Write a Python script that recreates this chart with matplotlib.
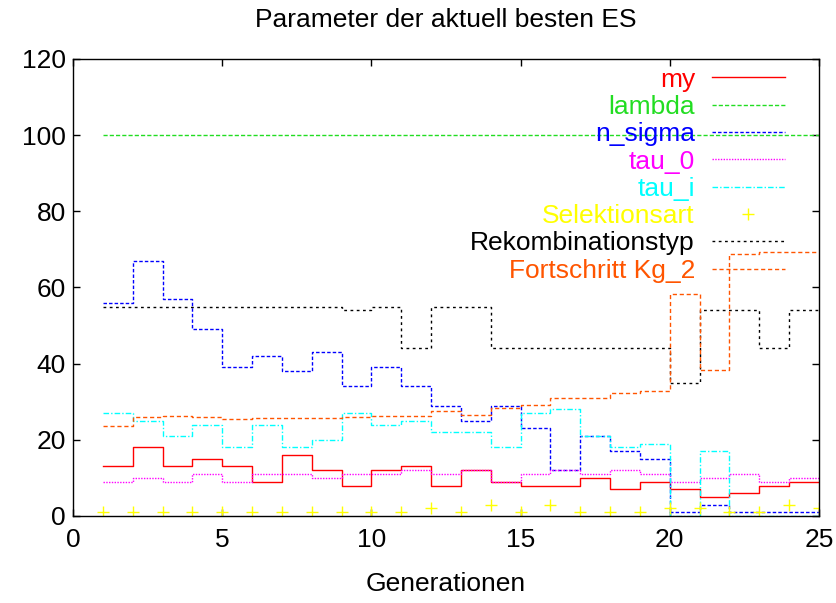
import matplotlib
matplotlib.use("Agg")
import matplotlib.pyplot as plt
import numpy as np

plt.rcParams['font.family'] = ['Liberation Sans', 'DejaVu Sans']

# Generationen 1..25
gen = np.arange(1, 26)

my = [13, 18, 13, 15, 13, 9, 16, 12, 8, 12, 13, 8, 12, 9, 8, 8, 10, 7, 9, 7, 5, 6, 8, 9, 9]
lam = [100] * 25
n_sigma = [56, 67, 57, 49, 39, 42, 38, 43, 34, 39, 34, 29, 25, 29, 23, 12, 21, 17, 15, 1, 3, 1, 1, 1, 1]
tau_0 = [9, 10, 9, 11, 9, 11, 11, 10, 11, 11, 12, 11, 12, 9, 11, 12, 11, 12, 11, 9, 10, 11, 9, 10, 10]
tau_i = [27, 25, 21, 24, 18, 24, 18, 20, 27, 24, 25, 22, 22, 18, 27, 28, 21, 18, 19, 0, 17, 0, 0, 0, 0]
selektion = [1, 1, 1, 1, 1, 1, 1, 1, 1, 1, 1, 2, 1, 3, 1, 3, 1, 1, 1, 2, 2, 1, 1, 3, 2]
rekomb = [55, 55, 55, 55, 55, 55, 55, 55, 54, 55, 44, 55, 55, 44, 44, 44, 44, 44, 44, 35, 54, 54, 44, 54, 54]
fortschritt = [23.6, 26.0, 26.3, 26.0, 25.5, 25.7, 25.7, 25.8, 26.0, 26.2, 26.2, 27.6, 26.6, 28.3,
               29.2, 30.9, 31.0, 32.2, 32.8, 58.3, 38.3, 68.8, 69.2, 69.4, 69.4]

fs = 19
fig = plt.figure(figsize=(8.37, 6.03), dpi=100)
ax = fig.add_axes([0.0872, 0.1443, 0.8913, 0.7579])

lw = 1.0
ax.step(gen, my, where="post", color="#ff0000", lw=lw, label="my")
ax.step(gen, lam, where="post", color="#22dd22", lw=lw, dashes=(3, 1.5), label="lambda")
ax.step(gen, n_sigma, where="post", color="#0000ff", lw=lw, dashes=(2.5, 1.5), label="n_sigma")
ax.step(gen, tau_0, where="post", color="#ff00ff", lw=lw, dashes=(1, 1), label="tau_0")
ax.step(gen, tau_i, where="post", color="#00ffff", lw=lw, dashes=(4, 1.5, 1, 1.5), label="tau_i")
ax.plot(gen, selektion, ls="none", marker="+", ms=8, mew=1, color="#ffff00", label="Selektionsart")
ax.step(gen, rekomb, where="post", color="#000000", lw=lw, dashes=(2, 2.5), label="Rekombinationstyp")
ax.step(gen, fortschritt, where="post", color="#ff5500", lw=lw, dashes=(3, 2), label="Fortschritt Kg_2")

ax.set_xlim(0, 25)
ax.set_ylim(0, 120)
ax.set_xticks(range(0, 26, 5))
ax.set_yticks(range(0, 121, 20))
ax.tick_params(direction="in", length=5, width=1, top=True, right=True, labelsize=fs)
ax.tick_params(axis="x", pad=9)
ax.tick_params(axis="y", pad=5)
for s in ax.spines.values():
    s.set_linewidth(1)

ax.set_title("Parameter der aktuell besten ES", fontsize=fs, pad=23)
ax.set_xlabel("Generationen", fontsize=fs, labelpad=14)

leg = ax.legend(loc="upper right", bbox_to_anchor=(0.954, 0.981), markerfirst=False,
                frameon=False, fontsize=fs, handlelength=2.75, handletextpad=0.65,
                labelspacing=0.125, borderpad=0, borderaxespad=0, labelcolor="linecolor")

fig.savefig("out.png", dpi=100)
